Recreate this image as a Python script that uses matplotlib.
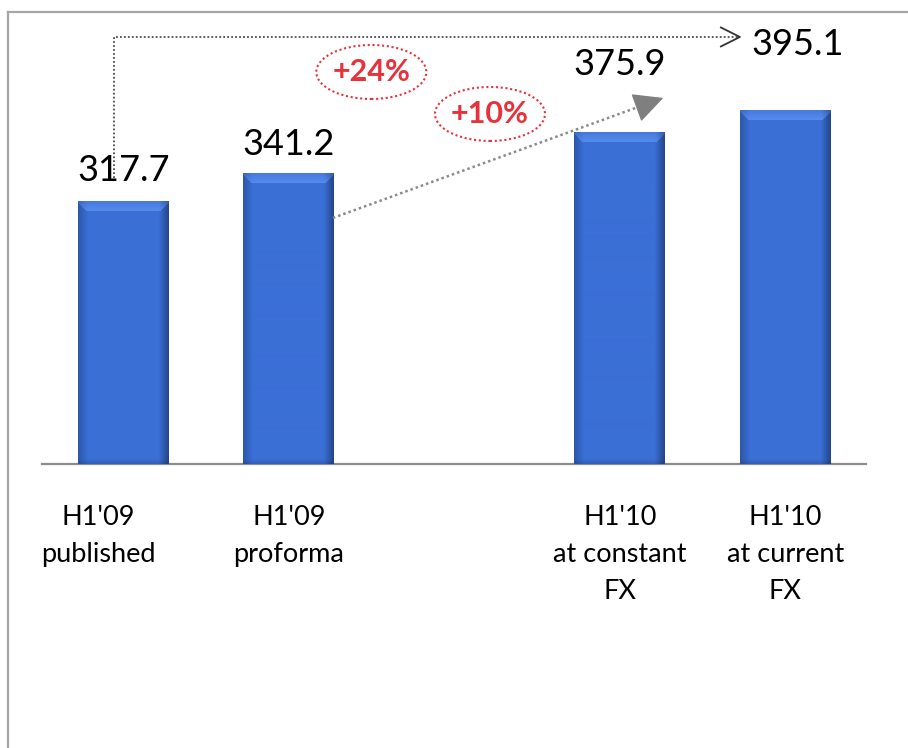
import numpy as np
import matplotlib
matplotlib.use("Agg")
import matplotlib.pyplot as plt
from matplotlib.patches import Ellipse
from matplotlib.lines import Line2D

plt.rcParams.update({
    "font.family": ["Lato", "DejaVu Sans"],
    "figure.dpi": 100,
    "savefig.dpi": 100,
})

# ── data ────────────────────────────────────────────────────────────
CATEGORIES = ["H1'09\npublished", "H1'09\nproforma",
              "H1'10\nat constant\nFX", "H1'10\nat current\nFX"]
VALUES = [317.7, 341.2, 375.9, 395.1]
SLOTS = [0, 1, 3, 4]                  # empty slot at 2
GROWTH_LABELS = ["+24%", "+10%"]

# ── styling / layout ────────────────────────────────────────────────
BAR_BLUE = np.array([0x3a, 0x6f, 0xd6]) / 255
RED = "#e8323b"
Y0 = 95.0
PX_PER_UNIT_Y = 1.179
LABEL_DY = [20, 19, 58, 55]           # px from bar top to value baseline
LABEL_DX = [0, 0, 0, 12]
CAT_DX = [-25, 0, 0, 0]

fig = plt.figure(figsize=(9.08, 7.48))
ax = fig.add_axes([42 / 908, (748 - 464) / 748, 824 / 908, 464 / 748])
ax.set_xlim(-0.491, 4.488)
ax.set_ylim(Y0, Y0 + 464 / PX_PER_UNIT_Y)

bars = ax.bar(SLOTS, VALUES, width=0.547, color=BAR_BLUE, zorder=2)


def bevel_image(w, h, bev=10):
    x = np.arange(w) + 0.5
    y = np.arange(h) + 0.5
    X, Y = np.meshgrid(x, y)
    dl, dr, dt, db = X, w - X, Y, h - Y
    mult = (0.78 + 0.22 * np.clip(dl / bev, 0, 1)) \
        * (0.62 + 0.38 * np.clip(dr / bev, 0, 1)) \
        * (0.85 + 0.15 * np.clip(db / 5, 0, 1))
    img = BAR_BLUE[None, None, :] * mult[..., None]
    side = np.minimum(dl, dr)
    t = np.where((dt < bev) & (dt <= side + 1), 0.12 + 0.2 * dt / bev, 0.0)
    img = img + (np.array([0.45, 0.65, 1.0]) - img) * t[..., None] * 1.6
    return np.clip(img, 0, 1)


fig.canvas.draw()
for rect in bars:
    x0, w, top = rect.get_x(), rect.get_width(), rect.get_height()
    (px0, py0), (px1, py1) = ax.transData.transform([(x0, Y0), (x0 + w, top)])
    img = bevel_image(int(round(px1 - px0)), int(round(py1 - py0)))
    ax.imshow(img, extent=(x0, x0 + w, Y0, top), aspect="auto",
              interpolation="bilinear", zorder=3)
ax.set_xlim(-0.491, 4.488)
ax.set_ylim(Y0, Y0 + 464 / PX_PER_UNIT_Y)

# value labels
for slot, val, dx, dy in zip(SLOTS, VALUES, LABEL_DX, LABEL_DY):
    ax.annotate(f"{val:.1f}", xy=(slot, val), xytext=(dx, dy),
                textcoords="offset pixels", ha="center", va="baseline",
                fontsize=26, color="black", annotation_clip=False)

# category labels, one line at a time
for slot, cat, dx in zip(SLOTS, CATEGORIES, CAT_DX):
    for i, line in enumerate(cat.split("\n")):
        ax.annotate(line, xy=(slot, Y0), xytext=(dx, -61 - 37 * i),
                    textcoords="offset pixels", ha="center", va="baseline",
                    fontsize=19.5, color="black", annotation_clip=False)

# axes cosmetics
for side in ["top", "right", "left"]:
    ax.spines[side].set_visible(False)
ax.spines["bottom"].set_color("#8c8c8c")
ax.spines["bottom"].set_linewidth(1.6)
ax.set_xticks([])
ax.set_yticks([])
ax.patch.set_alpha(0)

# dotted bracket: published -> current FX
bx, by0, by1, bx_end = -0.056, 337.6, 457.2, 3.726
ax.plot([bx, bx, bx_end], [by0, by1, by1], color="#4d4d4d", lw=1.3,
        linestyle=(0, (1, 1.2)), clip_on=False, zorder=4)
hx, hy = 19 / 165.5, 9.5 / PX_PER_UNIT_Y
ax.plot([bx_end - hx, bx_end, bx_end - hx], [by1 + hy, by1, by1 - hy],
        color="#333333", lw=1.3, clip_on=False, zorder=4)

# dotted gray arrow: proforma -> constant FX
ax0, ay0, ax1, ay1 = 1.267, 303.7, 3.279, 406.3
ax.plot([ax0, ax1 - 0.06], [ay0, ay1 - 3.0], color="#8a8a8a", lw=1.8,
        linestyle=(0, (1, 1.2)), clip_on=False, zorder=4)
ax.annotate("", xy=(ax1, ay1), xytext=(ax1 - 0.09, ay1 - 4.6),
            arrowprops=dict(arrowstyle="-|>,head_length=1.0,head_width=0.5",
                            color="#7f7f7f", lw=1, mutation_scale=19),
            annotation_clip=False, zorder=4)

# growth ellipses
for (cx, cy), txt in zip([(1.499, 427.5), (2.216, 391.9)], GROWTH_LABELS):
    ax.add_patch(Ellipse((cx, cy), 110 / 165.5, 54 / PX_PER_UNIT_Y,
                         fill=False, edgecolor=RED, lw=1.5,
                         linestyle=(0, (1, 1.3)), clip_on=False, zorder=4))
    ax.text(cx, cy, txt, ha="center", va="center", color=RED,
            fontsize=22, fontweight="bold", zorder=5)

# outer frame
frame_kw = dict(color="#a6a6a6", lw=1.6, transform=fig.transFigure)
fig.add_artist(Line2D([8 / 908, 1], [1 - 12 / 748] * 2, **frame_kw))
fig.add_artist(Line2D([8 / 908] * 2, [0, 1 - 12 / 748], **frame_kw))

fig.savefig("out.png")
